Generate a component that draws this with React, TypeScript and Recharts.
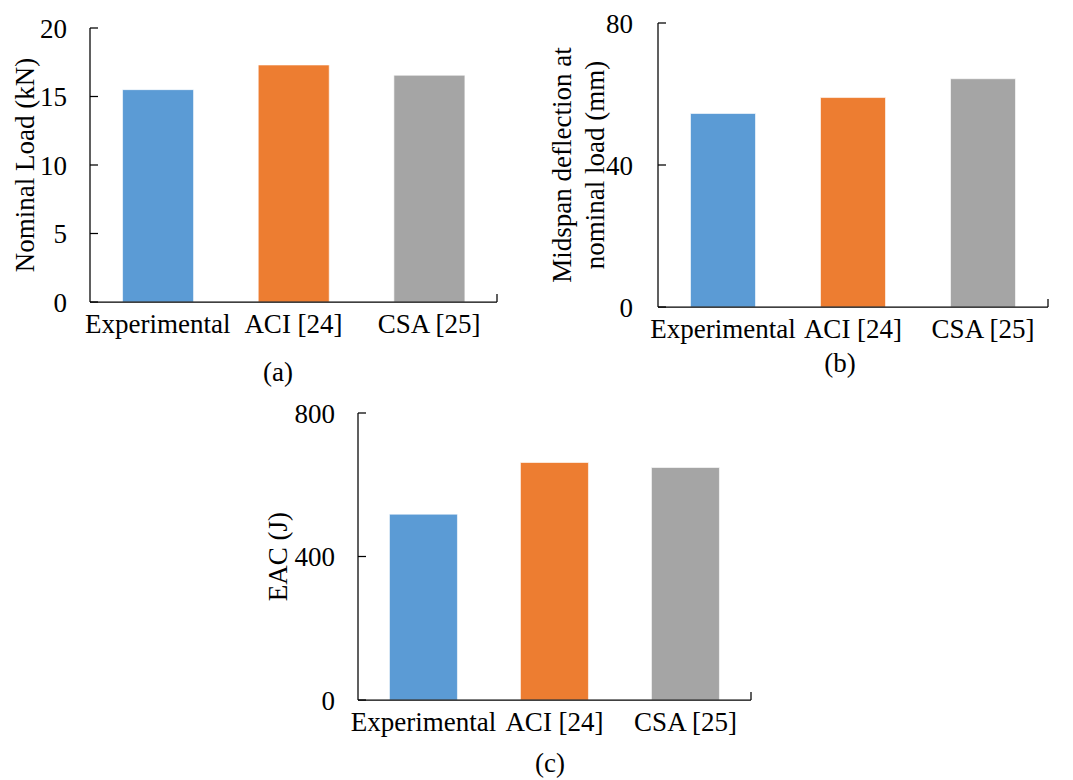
import { BarChart, Bar, XAxis, YAxis, Cell, Label } from "recharts"
import * as Recharts from "recharts"

const categories = ["Experimental", "ACI [24]", "CSA [25]"]
const barColors = ["#5B9BD5", "#ED7D31", "#A5A5A5"]

const nominalLoad = [15.5, 17.3, 16.55]
const midspanDeflection = [54.5, 59.0, 64.3]
const energyAbsorption = [518, 662, 648]

const loadTicks = [0, 5, 10, 15, 20]
const deflectionTicks = [0, 40, 80]
const eacTicks = [0, 400, 800]

const FONT = "'Liberation Serif', 'Times New Roman', serif"
const FS = 27

// Recharts 3 hook, guarded in case this build doesn't export it
const usePlotAreaHook: any = (Recharts as any).usePlotArea

function EndTick() {
  if (!usePlotAreaHook) return null
  const area = usePlotAreaHook()
  if (!area) return null
  const xr = area.x + area.width
  const yb = area.y + area.height
  return <line x1={xr} x2={xr} y1={yb - 8} y2={yb} stroke="#000" strokeWidth={1.25} />
}

interface YTitleProps {
  viewBox?: any
  lines: string[]
  xs: number[]
}

function YTitle({ viewBox, lines, xs }: YTitleProps) {
  const cy = viewBox ? viewBox.y + viewBox.height / 2 : 0
  return (
    <g>
      {lines.map((t, i) => (
        <text
          key={t}
          x={xs[i]}
          y={cy}
          transform={`rotate(-90, ${xs[i]}, ${cy})`}
          textAnchor="middle"
          dominantBaseline="central"
          fontFamily={FONT}
          fontSize={FS}
          fill="#000"
        >
          {t}
        </text>
      ))}
    </g>
  )
}

interface PanelProps {
  left: number
  top: number
  width: number
  height: number
  values: number[]
  ticks: number[]
  axisWidth: number
  marginTop: number
  marginRight: number
  xAxisHeight: number
  labelGap: number
  catGap: string
  titleLines: string[]
  titleXs: number[]
}

function Panel(p: PanelProps) {
  const data = categories.map((name, i) => ({ name, value: p.values[i] }))
  const max = p.ticks[p.ticks.length - 1]
  return (
    <div style={{ position: "absolute", left: p.left, top: p.top }}>
      <BarChart
        width={p.width}
        height={p.height}
        data={data}
        margin={{ top: p.marginTop, right: p.marginRight, bottom: 0, left: 0 }}
        barCategoryGap={p.catGap}
      >
        <XAxis
          dataKey="name"
          height={p.xAxisHeight}
          interval={0}
          tickLine={false}
          tickSize={0}
          tickMargin={12}
          axisLine={{ stroke: "#000", strokeWidth: 1.25 }}
          tick={{ fill: "#000", fontSize: FS, fontFamily: FONT }}
        />
        <YAxis
          width={p.axisWidth}
          domain={[0, max]}
          ticks={p.ticks}
          interval={0}
          tickSize={-8}
          tickMargin={8 + p.labelGap}
          axisLine={{ stroke: "#000", strokeWidth: 1.25 }}
          tickLine={{ stroke: "#000", strokeWidth: 1.25 }}
          tick={{ fill: "#000", fontSize: FS, fontFamily: FONT }}
        >
          <Label content={<YTitle lines={p.titleLines} xs={p.titleXs} />} />
        </YAxis>
        <Bar dataKey="value" isAnimationActive={false} stroke="#ffffff" strokeOpacity={0.6} strokeWidth={1}>
          {data.map((d, i) => (
            <Cell key={d.name} fill={barColors[i]} />
          ))}
        </Bar>
        <EndTick />
      </BarChart>
    </div>
  )
}

function Caption({ text, x, y }: { text: string; x: number; y: number }) {
  return (
    <div
      style={{
        position: "absolute",
        left: x,
        top: y,
        transform: "translate(-50%, -50%)",
        fontFamily: FONT,
        fontSize: FS,
        lineHeight: 1,
        color: "#000",
      }}
    >
      {text}
    </div>
  )
}

export default function App() {
  return (
    <div style={{ position: "absolute", left: 0, top: 0, width: 1073, height: 780, background: "#fff" }}>
      <Panel
        left={0}
        top={0}
        width={540}
        height={390}
        values={nominalLoad}
        ticks={loadTicks}
        axisWidth={90}
        marginTop={28}
        marginRight={43}
        xAxisHeight={88}
        labelGap={23}
        catGap="24%"
        titleLines={["Nominal Load (kN)"]}
        titleXs={[25]}
      />
      <Panel
        left={540}
        top={0}
        width={533}
        height={390}
        values={midspanDeflection}
        ticks={deflectionTicks}
        axisWidth={118}
        marginTop={23}
        marginRight={25}
        xAxisHeight={83}
        labelGap={25}
        catGap="25%"
        titleLines={["Midspan deflection at", "nominal load (mm)"]}
        titleXs={[22, 55]}
      />
      <Panel
        left={250}
        top={390}
        width={540}
        height={390}
        values={energyAbsorption}
        ticks={eacTicks}
        axisWidth={108}
        marginTop={23}
        marginRight={39}
        xAxisHeight={80}
        labelGap={23}
        catGap="24%"
        titleLines={["EAC (J)"]}
        titleXs={[28]}
      />
      <Caption text="(a)" x={278} y={372} />
      <Caption text="(b)" x={840} y={363} />
      <Caption text="(c)" x={550} y={763} />
    </div>
  )
}
